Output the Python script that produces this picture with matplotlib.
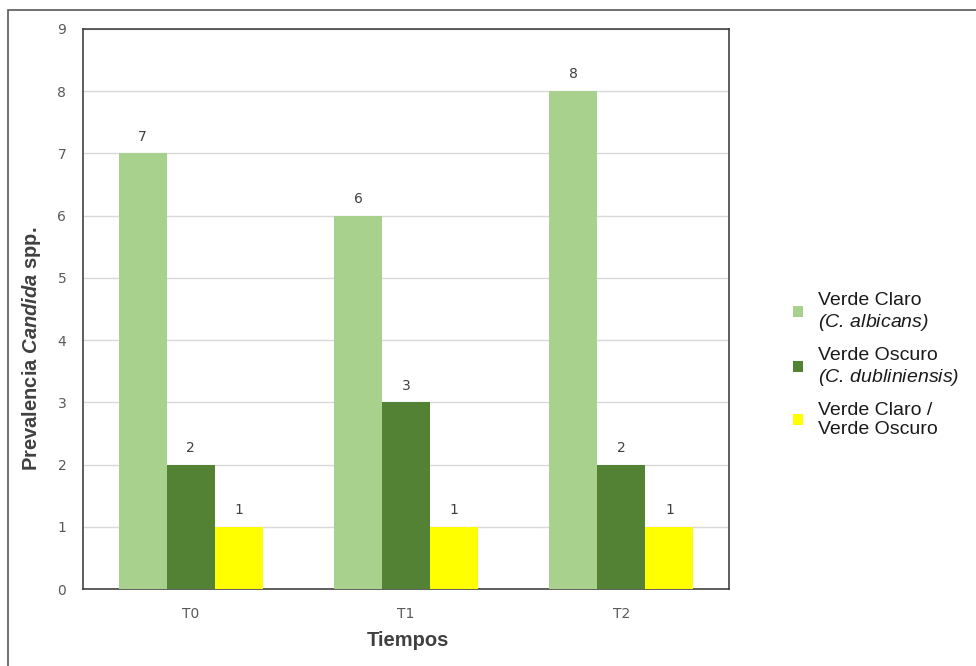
import numpy as np
import matplotlib
matplotlib.use("Agg")
import matplotlib.pyplot as plt
from matplotlib.patches import Rectangle

plt.rcParams['font.family'] = ['Liberation Sans', 'DejaVu Sans']
plt.rcParams['mathtext.fontset'] = 'custom'
# simbolos (parentesis) en cursiva tambien dentro de la leyenda
plt.rcParams['mathtext.rm'] = 'Liberation Sans:italic'
plt.rcParams['mathtext.it'] = 'Liberation Sans:italic'
plt.rcParams['mathtext.bf'] = 'Liberation Sans:bold'
plt.rcParams['mathtext.bfit'] = 'Liberation Sans:bold:italic'

# Datos
tiempos = ['T0', 'T1', 'T2']
verde_claro = [7, 6, 8]
verde_oscuro = [2, 3, 2]
claro_oscuro = [1, 1, 1]

series = [
    (verde_claro, 'Verde Claro\n$(C.\\,albicans)$', '#A9D18E'),
    (verde_oscuro, 'Verde Oscuro\n$(C.\\,dubliniensis)$', '#548235'),
    (claro_oscuro, 'Verde Claro /\nVerde Oscuro', '#FFFF00'),
]

fig = plt.figure(figsize=(9.76, 6.66), dpi=100)
ax = fig.add_axes([0.085, 0.1156, 0.662, 0.841])

# marco exterior
fig.patches.append(Rectangle((0.008, -0.1), 1.1, 1.085, transform=fig.transFigure,
                             fill=False, edgecolor='#595959', linewidth=1.2))

x = np.arange(len(tiempos))
w = 0.223
for i, (vals, label, color) in enumerate(series):
    bars = ax.bar(x + (i - 1) * w, vals, w, color=color, label=label, zorder=3)
    ax.bar_label(bars, padding=7, fontsize=10, color='#404040', family='DejaVu Sans')

ax.set_xlim(-0.5, 2.5)
ax.set_ylim(0, 9)
ax.set_yticks(range(0, 10))
ax.set_xticks(x)
ax.set_xticklabels(tiempos)
ax.tick_params(length=0, labelsize=10, labelcolor='#595959')
ax.tick_params(axis='x', pad=13)
ax.tick_params(axis='y', pad=12)
for t in ax.get_xticklabels() + ax.get_yticklabels():
    t.set_family('DejaVu Sans')

ax.grid(axis='y', color='#D9D9D9', linewidth=1, zorder=0)
for s in ax.spines.values():
    s.set_color('#333333')
    s.set_linewidth(1.1)

# titulos de los ejes
fig.text(408 / 976, 1 - 640 / 666, 'Tiempos', fontsize=14.5, fontweight='bold',
         color='#404040', ha='center', va='center')
fig.text(32 / 976, 1 - 349 / 666, 'Prevalencia $\\mathbfit{Candida}$ spp.', fontsize=14.5,
         fontweight='bold', color='#404040', rotation=90, ha='center', va='center')

leg = fig.legend(loc='center left', bbox_to_anchor=(0.7946, 1 - 365 / 666), frameon=False,
                 fontsize=14, handlelength=0.52, handleheight=0.52, handletextpad=0.77,
                 labelspacing=0.72, labelcolor='#1a1a1a')

fig.savefig('out.png', dpi=100)
